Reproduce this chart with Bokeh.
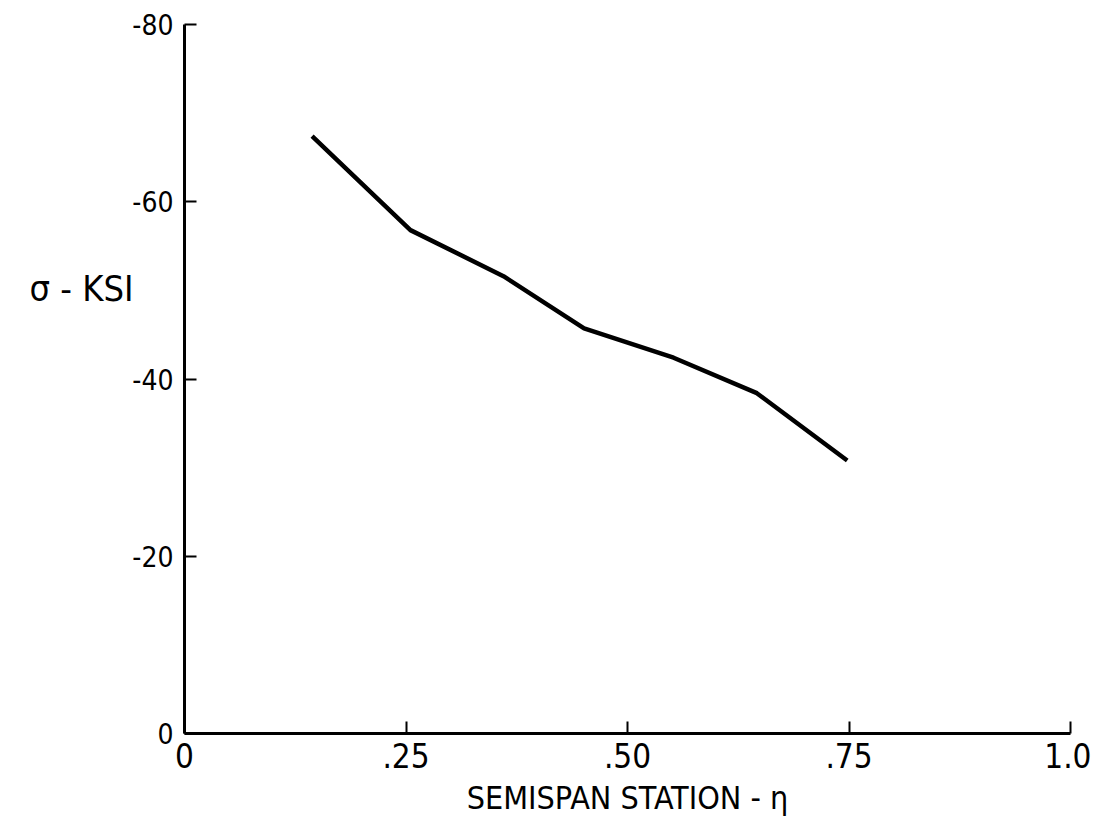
from bokeh.plotting import figure
from bokeh.models import Range1d, FixedTicker, Label
from bokeh.embed import file_html
from bokeh.resources import INLINE

# Data
eta = [0.144, 0.255, 0.360, 0.451, 0.552, 0.646, 0.748]
sigma_ksi = [-67.4, -56.8, -51.6, -45.7, -42.4, -38.4, -30.8]

x_ticks = [0, 0.25, 0.5, 0.75, 1.0]
x_tick_labels = ["0", ".25", ".50", ".75", "1.0"]
y_ticks = [0, -20, -40, -60, -80]
y_tick_labels = ["0", "-20", "-40", "-60", "-80"]

FONT = "'Liberation Sans Narrow', 'DejaVu Sans Condensed', 'Liberation Sans', sans-serif"

p = figure(width=1091, height=819, output_backend="svg", toolbar_location=None,
           x_range=Range1d(0, 1.0), y_range=Range1d(0, -80),
           min_border_left=184, min_border_right=21, min_border_top=24, min_border_bottom=86)
p.outline_line_color = None
p.xgrid.grid_line_color = None
p.ygrid.grid_line_color = None
p.background_fill_color = "white"
p.border_fill_color = "white"

p.line(eta, sigma_ksi, line_color="black", line_width=4.5)

xa = p.xaxis[0]
xa.ticker = FixedTicker(ticks=x_ticks)
xa.major_label_overrides = {t: l for t, l in zip(x_ticks, x_tick_labels)}
xa.minor_tick_line_color = None
xa.major_tick_in = 12
xa.major_tick_out = 0
xa.major_tick_line_width = 2
xa.axis_line_width = 3
xa.major_label_standoff = 9
xa.major_label_text_font = FONT
xa.major_label_text_font_size = "33px"
xa.major_label_text_color = "black"
xa.axis_label = "SEMISPAN STATION - \u03b7"
xa.axis_label_text_font = FONT
xa.axis_label_text_font_size = "32px"
xa.axis_label_text_font_style = "normal"
xa.axis_label_text_color = "black"
xa.axis_label_standoff = 8

ya = p.yaxis[0]
ya.ticker = FixedTicker(ticks=y_ticks)
ya.major_label_overrides = {t: l for t, l in zip(y_ticks, y_tick_labels)}
ya.minor_tick_line_color = None
ya.major_tick_in = 12
ya.major_tick_out = 0
ya.major_tick_line_width = 2
ya.axis_line_width = 3
ya.major_label_standoff = 11
ya.major_label_text_font = FONT
ya.major_label_text_font_size = "28px"
ya.major_label_text_color = "black"

ylab = Label(x=4, y=445, x_units="screen", y_units="screen",
             text="\u03c3 - KSI", text_font=FONT, text_font_size="36px",
             text_align="left", text_baseline="middle", text_color="black")
p.add_layout(ylab, "left")

open("out.html", "w").write(file_html(p, INLINE))
